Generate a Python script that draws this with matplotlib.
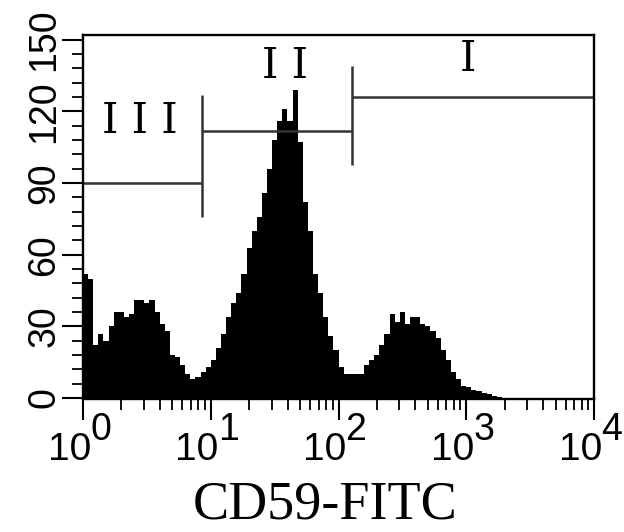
import numpy as np
import matplotlib
matplotlib.use('Agg')
import matplotlib.pyplot as plt
from matplotlib import ticker, transforms

# histogram counts, 25 channels per decade from 10^0 to 10^4
counts = [52, 50, 22, 27, 24, 30, 36, 36, 34, 35,
          41, 41, 40, 41, 36, 31, 28, 18, 17, 14,
          10, 8, 9, 11, 13, 16, 21, 27, 34, 40,
          44, 52, 63, 70, 76, 86, 96, 108, 116, 121,
          116, 129, 107, 82, 70, 52, 44, 34, 26, 20,
          13, 10, 10, 10, 10, 14, 16, 18, 22, 27,
          35, 32, 36, 31, 34, 34, 31, 30, 28, 25,
          20, 16, 11, 8, 5, 4.5, 3.5, 3, 2, 1.5,
          1, 0.5, 0, 0, 0, 0, 0, 0, 0, 0,
          0, 0, 0, 0, 0, 0, 0, 0, 0, 0]

# gates
gate_names = ['I I I', 'I I', 'I']
gate_lo = [1, 8.6, 127]
gate_hi = [8.6, 127, 10000]
gate_y = [90, 112, 126]
bar_x = [8.6, 127]
bar_lo = [76, 97.5]
bar_hi = [127, 139]
label_x = [2.8, 38, 1025]
label_y = [116, 139, 142]

yticks = [0, 30, 60, 90, 120, 150]
xdecades = [0, 1, 2, 3, 4]

num_font = ['Liberation Sans', 'DejaVu Sans']

fig = plt.figure(figsize=(6.24, 5.32), dpi=100)
ax = fig.add_axes([83/624, 1 - 399/532, 511/624, 364/532])

edges = np.logspace(0, 4, len(counts) + 1)
ax.stairs(counts, edges, fill=True, color='black', lw=0)

for lo, hi, y in zip(gate_lo, gate_hi, gate_y):
    ax.plot([lo, hi], [y, y], color='#333333', lw=1.8, solid_capstyle='butt')
for x, lo, hi in zip(bar_x, bar_lo, bar_hi):
    ax.plot([x, x], [lo, hi], color='#333333', lw=1.8, solid_capstyle='butt')
for name, x, y in zip(gate_names, label_x, label_y):
    ax.text(x, y, name, ha='center', va='center', fontsize=30,
            family='DejaVu Serif')

ax.set_xscale('log')
ax.set_xlim(1, 1e4)
ax.set_ylim(-0.4, 152)

for s in ax.spines.values():
    s.set_linewidth(1.7)

ax.set_yticks(yticks)
ax.set_yticklabels([str(v) for v in yticks], rotation=90, va='center',
                   fontsize=27, family=num_font)
ax.yaxis.set_minor_locator(ticker.MultipleLocator(6))
ax.xaxis.set_major_locator(ticker.LogLocator(base=10, numticks=10))
ax.xaxis.set_minor_locator(ticker.LogLocator(base=10, subs=np.arange(2, 10), numticks=10))
ax.xaxis.set_major_formatter(ticker.NullFormatter())
ax.xaxis.set_minor_formatter(ticker.NullFormatter())
ax.tick_params(which='major', length=15, width=1.5, direction='out', pad=0)
ax.tick_params(which='minor', length=8, width=1.3, direction='out')

# x tick labels drawn as "10" plus a full size exponent
trans = ax.get_xaxis_transform()
for d in xdecades:
    t1 = transforms.offset_copy(trans, fig=fig, x=8, y=-61, units='dots')
    ax.text(10**d, 0, '10', transform=t1, ha='right', va='baseline',
            fontsize=28, family=num_font, clip_on=False)
    t2 = transforms.offset_copy(trans, fig=fig, x=7, y=-41, units='dots')
    ax.text(10**d, 0, str(d), transform=t2, ha='left', va='baseline',
            fontsize=27, family=num_font, clip_on=False)

fig.text(325/624, 0.002, 'CD59-FITC', ha='center', va='bottom',
         fontsize=39, family='Liberation Serif')

fig.savefig('out.png', dpi=100)
